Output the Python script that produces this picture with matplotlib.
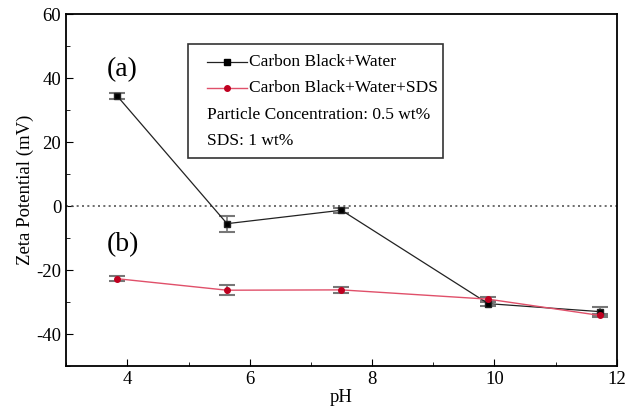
import numpy as np
import matplotlib.pyplot as plt
from matplotlib.patches import Rectangle
from matplotlib.ticker import MultipleLocator

plt.rcParams['font.family'] = ['Liberation Serif', 'DejaVu Serif']
plt.rcParams['axes.unicode_minus'] = False

# pH values and zeta potential (mV)
ph = [3.83, 5.63, 7.5, 9.9, 11.73]
water = [34.5, -5.5, -1.3, -30.5, -33.0]
water_err = [0.9, 2.5, 0.8, 0.7, 1.5]
sds = [-22.7, -26.3, -26.2, -29.1, -34.2]
sds_err = [0.7, 1.6, 0.9, 0.8, 0.5]

fig = plt.figure(figsize=(6.3, 4.15), dpi=100)
ax = fig.add_axes([0.105, 0.118, 0.874, 0.848])

ax.axhline(0, color='#555555', linestyle=(0, (1.2, 2)), linewidth=1.2)

ax.errorbar(ph, water, yerr=water_err, color='#222222', linewidth=0.9,
            marker='s', markersize=4, markerfacecolor='black',
            ecolor='#777777', elinewidth=1.2, capsize=6, capthick=1.5)
ax.errorbar(ph, sds, yerr=sds_err, color='#e0506a', linewidth=1.0,
            marker='o', markersize=4, markerfacecolor='#c00020', markeredgecolor='#c00020',
            ecolor='#777777', elinewidth=1.2, capsize=6, capthick=1.5)

ax.set_xlim(3, 12)
ax.set_ylim(-50, 60)
ax.xaxis.set_major_locator(MultipleLocator(2))
ax.xaxis.set_minor_locator(MultipleLocator(1))
ax.yaxis.set_major_locator(MultipleLocator(20))
ax.yaxis.set_minor_locator(MultipleLocator(10))
ax.tick_params(which='both', direction='in', labelsize=13.5)
ax.tick_params(which='major', length=5)
ax.tick_params(which='minor', length=3)
for s in ax.spines.values():
    s.set_linewidth(1.3)

ax.set_xlabel('pH', fontsize=13.5, labelpad=1)
ax.set_ylabel('Zeta Potential (mV)', fontsize=13.5, labelpad=2)

ax.text(3.67, 42.8, '(a)', fontsize=20, va='center')
ax.text(3.67, -11.9, '(b)', fontsize=20, va='center')

# legend box drawn by hand
tr = ax.transAxes
ax.add_patch(Rectangle((0.221, 0.591), 0.463, 0.324, transform=tr,
                       facecolor='white', edgecolor='#333333', linewidth=1.2, zorder=5))
ax.plot([0.256, 0.328], [0.864, 0.864], transform=tr, color='#222222', lw=0.9,
        zorder=6)
ax.plot([0.292], [0.864], transform=tr, marker='s', ms=4, color='black', zorder=6)
ax.plot([0.256, 0.328], [0.790, 0.790], transform=tr, color='#e0506a', lw=1.0,
        zorder=6)
ax.plot([0.292], [0.790], transform=tr, marker='o', ms=4, color='#c00020', zorder=6)
ax.text(0.332, 0.864, 'Carbon Black+Water', transform=tr, fontsize=12.5,
        va='center', zorder=6)
ax.text(0.332, 0.790, 'Carbon Black+Water+SDS', transform=tr, fontsize=12.5,
        va='center', zorder=6)
ax.text(0.256, 0.713, 'Particle Concentration: 0.5 wt%', transform=tr, fontsize=12.5,
        va='center', zorder=6)
ax.text(0.256, 0.639, 'SDS: 1 wt%', transform=tr, fontsize=12.5,
        va='center', zorder=6)

fig.savefig('out.png', dpi=100)
